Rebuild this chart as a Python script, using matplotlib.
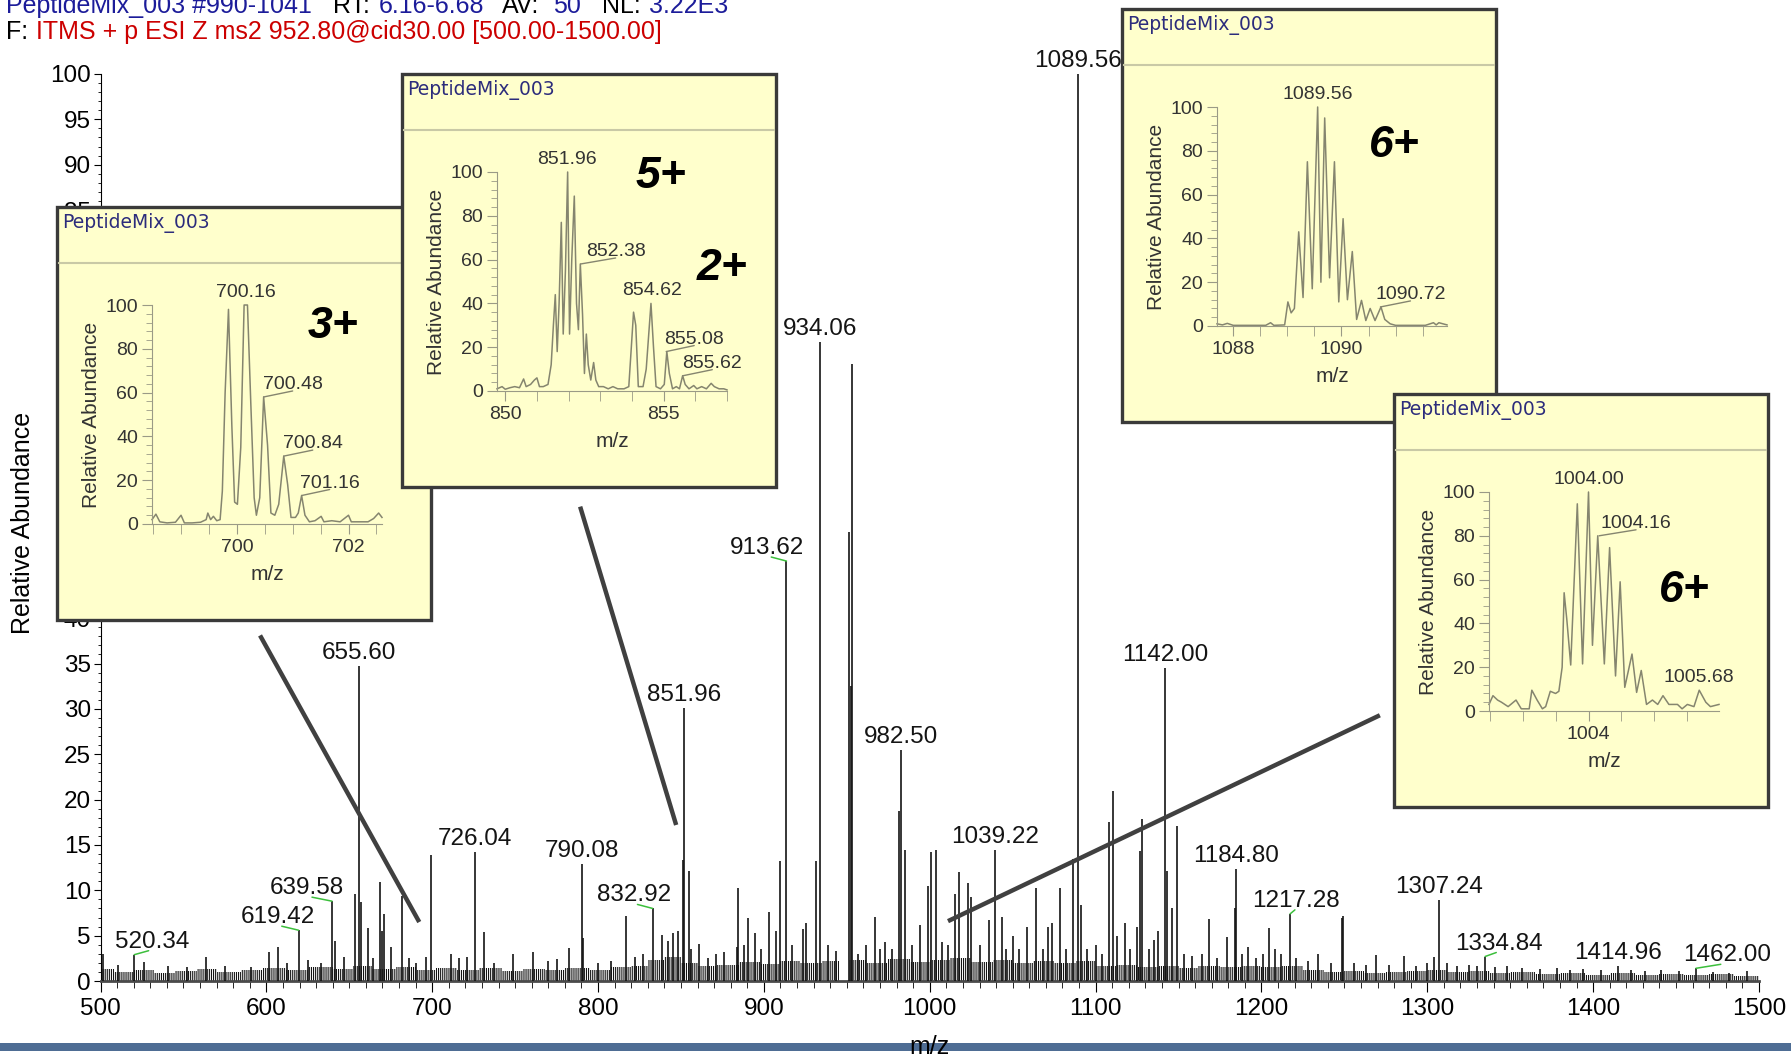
"""MS2 spectrum of PeptideMix_003 (precursor 952.80) with four zoomed
isotope-cluster insets, redrawn with matplotlib. Writes out.png."""

import matplotlib

matplotlib.use("Agg")
import matplotlib.pyplot as plt
import numpy as np
from matplotlib.lines import Line2D
from matplotlib.patches import Rectangle
from matplotlib.ticker import MultipleLocator

W, H = 1791, 1057

# Main spectrum peaks: m/z and relative abundance (%), rows of ten.
PEAK_MZ = [
    501.6, 510.5, 520.34, 526.0, 541.0, 552.0, 563.6, 575.0, 590.5, 601.6,
    607.0, 612.5, 619.42, 625.0, 633.0, 639.58, 641.5, 647.0, 653.3, 655.60,
    656.9, 661.0, 664.5, 668.5, 669.5, 671.0, 675.0, 681.8, 686.0, 690.0,
    696.5, 699.3, 711.3, 716.0, 721.0, 726.04, 731.0, 737.0, 748.9, 761.0,
    770.0, 775.0, 782.4, 790.08, 791.0, 800.0, 808.0, 816.6, 822.0, 827.0,
    832.92, 838.8, 842.0, 845.4, 848.0, 851.0, 851.96, 854.6, 856.0, 860.8,
    866.0, 871.0, 876.0, 883.6, 884.6, 888.0, 890.6, 894.6, 898.0, 903.3,
    907.2, 910.0, 913.62, 917.0, 923.6, 925.6, 931.7, 934.06, 938.7, 943.7,
    951.3, 952.3, 953.3, 957.0, 961.7, 966.7, 970.0, 973.3, 977.0, 981.7,
    982.50, 984.8, 989.0, 994.4, 998.8, 1000.8, 1003.8, 1007.2, 1011.0, 1015.4,
    1017.8, 1022.8, 1025.0, 1030.0, 1035.9, 1039.22, 1043.5, 1046.0, 1049.9, 1054.0,
    1058.5, 1064.3, 1068.0, 1071.5, 1073.5, 1078.6, 1082.0, 1086.4, 1089.56, 1091.0,
    1095.0, 1100.0, 1104.0, 1108.3, 1110.7, 1113.0, 1117.7, 1121.0, 1124.9, 1126.9,
    1127.9, 1132.0, 1135.0, 1137.4, 1142.00, 1143.0, 1146.0, 1149.0, 1153.0, 1158.0,
    1164.0, 1168.5, 1173.0, 1179.0, 1184.0, 1184.80, 1188.0, 1191.6, 1197.0, 1201.0,
    1204.7, 1208.0, 1212.0, 1217.28, 1221.0, 1228.0, 1234.0, 1242.0, 1248.4, 1249.2,
    1256.0, 1263.0, 1269.0, 1277.0, 1286.0, 1293.0, 1300.0, 1303.8, 1307.24, 1312.0,
    1318.0, 1325.0, 1330.0, 1334.84, 1341.0, 1348.0, 1357.0, 1368.0, 1378.0, 1386.0,
    1394.0, 1405.0, 1414.96, 1423.0, 1431.0, 1441.0, 1452.0, 1462.00, 1472.0, 1482.0,
    1493.0,
]
PEAK_INT = [
    3.0, 1.8, 2.9, 2.1, 1.6, 1.5, 2.6, 1.6, 1.5, 3.2,
    3.8, 2.0, 5.6, 2.3, 2.0, 8.8, 4.4, 2.6, 9.6, 34.7,
    8.7, 5.8, 2.5, 10.9, 5.5, 7.4, 3.8, 9.4, 2.5, 2.0,
    2.6, 13.9, 3.0, 2.5, 2.7, 14.2, 5.4, 2.0, 3.0, 3.2,
    2.2, 2.4, 3.6, 12.9, 4.7, 2.0, 2.2, 7.2, 2.6, 3.0,
    8.0, 5.1, 4.4, 5.3, 5.5, 13.3, 30.1, 12.1, 3.5, 4.1,
    2.5, 3.0, 3.2, 3.8, 10.2, 4.0, 6.9, 5.3, 3.5, 7.6,
    5.5, 13.2, 46.3, 4.0, 5.7, 6.4, 13.2, 70.5, 4.0, 3.3,
    49.5, 32.5, 68.0, 3.0, 4.0, 7.1, 3.5, 4.3, 3.5, 18.7,
    25.5, 14.4, 4.0, 6.2, 10.5, 14.2, 14.4, 4.3, 4.0, 9.6,
    12.0, 10.8, 9.3, 4.0, 6.7, 14.4, 7.1, 3.5, 5.0, 3.5,
    5.9, 10.3, 3.5, 5.9, 6.4, 10.3, 3.5, 13.4, 100.0, 8.4,
    3.5, 4.0, 3.0, 17.5, 21.0, 5.0, 6.4, 3.5, 6.0, 14.3,
    17.9, 3.5, 4.5, 5.5, 34.5, 12.1, 8.1, 17.1, 3.0, 2.8,
    3.0, 6.8, 2.5, 4.8, 8.1, 12.3, 3.0, 3.7, 2.5, 3.0,
    5.8, 3.5, 3.0, 7.4, 2.5, 2.2, 3.0, 2.0, 7.0, 7.2,
    2.0, 1.8, 2.9, 1.8, 2.8, 1.7, 2.0, 2.7, 8.9, 2.0,
    1.7, 1.8, 1.6, 2.7, 1.5, 1.6, 1.4, 1.3, 1.4, 1.2,
    1.3, 1.2, 1.6, 1.2, 1.1, 1.2, 1.1, 1.4, 1.0, 0.9,
    1.1,
]
assert len(PEAK_MZ) == len(PEAK_INT)

# Noise floor: level holds from each start m/z up to the next one (and 1500).
NOISE_START = [
    500, 508, 520, 532, 545, 558, 570, 585, 598, 612,
    625, 640, 652, 664, 678, 690, 702, 715, 728, 742,
    755, 768, 780, 795, 808, 820, 830, 840, 850, 860,
    872, 885, 898, 910, 922, 935, 945.5, 951.5, 962, 975,
    988, 1000, 1012, 1025, 1038, 1050, 1062, 1075, 1088, 1100,
    1112, 1125, 1138, 1150, 1162, 1175, 1188, 1200, 1212, 1225,
    1238, 1250, 1262, 1275, 1288, 1300, 1312, 1325, 1338, 1350,
    1365, 1380, 1395, 1410, 1425, 1440, 1455, 1470, 1485,
]
NOISE_LEVEL = [
    1.3, 1.0, 1.2, 0.9, 1.1, 1.3, 1.0, 1.2, 1.4, 1.2,
    1.5, 1.3, 1.6, 1.3, 1.5, 1.2, 1.4, 1.2, 1.4, 1.1,
    1.3, 1.2, 1.4, 1.2, 1.5, 1.7, 2.3, 2.6, 2.0, 1.6,
    1.8, 2.1, 1.9, 2.2, 2.0, 2.2, 0.0, 2.3, 2.0, 2.4,
    2.1, 2.3, 2.5, 2.1, 2.3, 2.0, 2.2, 2.0, 2.2, 1.6,
    1.8, 1.5, 1.7, 1.4, 1.6, 1.5, 1.7, 1.5, 1.6, 1.2,
    1.0, 1.1, 0.9, 1.0, 1.1, 1.2, 1.0, 1.1, 0.9, 1.0,
    0.8, 0.9, 0.7, 0.9, 0.7, 0.8, 0.7, 0.8, 0.6,
]
assert len(NOISE_START) == len(NOISE_LEVEL)

LABELED_MZ = [520.34, 619.42, 639.58, 655.60, 726.04, 790.08, 832.92, 851.96,
              913.62, 934.06, 982.50, 1039.22, 1089.56, 1142.00, 1184.80,
              1217.28, 1307.24, 1334.84, 1414.96, 1462.00]

# Inset profiles, (m/z, relative abundance) vertices of the profile trace.
PROFILE_700 = [
    (698.48, 2), (698.55, 4.5), (698.62, 1), (698.75, 0.5), (698.9, 0.8),
    (699.0, 4), (699.06, 0.5), (699.2, 0.5), (699.35, 0.8), (699.45, 2),
    (699.48, 5), (699.53, 2), (699.58, 3.5), (699.64, 1.5), (699.7, 2),
    (699.74, 15), (699.79, 60), (699.85, 98), (699.91, 45), (699.96, 10),
    (700.01, 9), (700.07, 35), (700.13, 100), (700.19, 100), (700.25, 55),
    (700.31, 12), (700.35, 4), (700.41, 12), (700.48, 58), (700.55, 36),
    (700.61, 5), (700.68, 4), (700.75, 9), (700.84, 31), (700.91, 18),
    (700.97, 3), (701.05, 3), (701.1, 5), (701.16, 13), (701.22, 4),
    (701.3, 1), (701.4, 1.5), (701.51, 3.5), (701.56, 1), (701.7, 1.5),
    (701.85, 1), (702.0, 4), (702.05, 1), (702.2, 1), (702.35, 1),
    (702.45, 2.5), (702.54, 5), (702.6, 3),
]
PROFILE_852 = [
    (849.74, 1), (849.9, 2), (850.0, 0.8), (850.15, 1.5), (850.3, 2),
    (850.45, 1.5), (850.58, 5.5), (850.66, 2), (850.8, 3), (850.92, 5),
    (851.0, 6), (851.08, 2), (851.2, 2), (851.35, 3), (851.45, 12),
    (851.52, 30), (851.58, 44), (851.64, 18), (851.7, 40), (851.77, 77),
    (851.83, 26), (851.9, 55), (851.97, 100), (852.03, 26), (852.1, 60),
    (852.18, 89), (852.25, 40), (852.31, 28), (852.37, 58), (852.44, 35),
    (852.5, 8), (852.56, 26), (852.62, 12), (852.7, 5), (852.79, 13),
    (852.86, 5), (852.95, 2), (853.1, 2), (853.25, 1), (853.4, 2),
    (853.55, 1), (853.75, 1), (853.9, 2), (853.98, 20), (854.05, 36),
    (854.12, 30), (854.2, 2), (854.35, 2), (854.45, 10), (854.52, 24),
    (854.6, 40), (854.68, 20), (854.76, 2), (854.9, 1), (855.02, 3),
    (855.1, 18), (855.18, 8), (855.28, 1), (855.4, 2), (855.5, 1),
    (855.6, 7), (855.68, 3), (855.8, 1), (855.95, 2.5), (856.05, 1),
    (856.2, 2), (856.35, 1), (856.5, 3.5), (856.6, 2), (856.75, 1),
    (856.9, 1), (857.0, 0.5),
]
PROFILE_1090 = [
    (1087.7, 1), (1087.8, 0.5), (1087.89, 1.2), (1088.0, 0.3), (1088.3, 0.3),
    (1088.6, 0.3), (1088.69, 1.5), (1088.75, 0.3), (1088.95, 0.5), (1089.01, 11),
    (1089.07, 6), (1089.13, 8), (1089.21, 43), (1089.29, 13), (1089.37, 75),
    (1089.46, 17), (1089.56, 100), (1089.62, 20), (1089.69, 95), (1089.78, 22),
    (1089.87, 75), (1089.95, 11), (1090.03, 49), (1090.11, 12), (1090.2, 34),
    (1090.28, 3), (1090.37, 11.7), (1090.45, 2.5), (1090.53, 8), (1090.62, 2.5),
    (1090.73, 8.7), (1090.8, 3), (1090.9, 1), (1091.0, 0.3), (1091.3, 0.3),
    (1091.55, 0.3), (1091.7, 1.5), (1091.75, 0.5), (1091.8, 1.5), (1091.95, 0.5),
]
PROFILE_1004 = [
    (1002.49, 3), (1002.55, 7), (1002.62, 5), (1002.68, 4), (1002.78, 2),
    (1002.9, 5), (1002.98, 1), (1003.1, 1), (1003.14, 9.5), (1003.22, 5),
    (1003.3, 1), (1003.35, 2), (1003.42, 9), (1003.5, 8), (1003.55, 9),
    (1003.6, 20), (1003.63, 54), (1003.67, 42), (1003.73, 21), (1003.83, 94.6),
    (1003.91, 21.5), (1004.0, 100), (1004.06, 30), (1004.14, 80), (1004.24, 21.5),
    (1004.32, 74.6), (1004.41, 16), (1004.48, 59), (1004.55, 10.8), (1004.66, 26),
    (1004.73, 8.5), (1004.8, 18.5), (1004.88, 3), (1004.97, 5), (1005.05, 3),
    (1005.13, 7), (1005.22, 3), (1005.35, 3), (1005.42, 1), (1005.5, 3),
    (1005.6, 2), (1005.68, 9.5), (1005.78, 4), (1005.85, 2), (1005.98, 3),
]

LABELS_700 = [700.16, 700.48, 700.84, 701.16]
LABELS_852 = [851.96, 852.38, 854.62, 855.08, 855.62]
LABELS_1090 = [1089.56, 1090.72]
LABELS_1004 = [1004.00, 1004.16, 1005.68]

# ---- styling / layout ----
plt.rcParams["font.family"] = ["Liberation Sans", "DejaVu Sans"]
plt.rcParams["hatch.color"] = "#151515"
plt.rcParams["hatch.linewidth"] = 0.8

INK = "#141414"
GREEN = "#3cbf3c"
INSET_FACE = "#ffffcc"
INSET_LINE = "#85856f"
INSET_AXIS = "#9a9a86"
BOX_W, BOX_H = 374, 413

# Horizontal label shift (px) for labels pushed off their peak; these get a
# green leader line like the instrument software draws.
MAIN_LABEL_DX = {520.34: 18, 619.42: -21, 639.58: -25, 832.92: -19,
                 913.62: -19, 1217.28: 6, 1334.84: 14, 1462.00: 31}


def fx(px):
    return px / W


def fy(py):
    return 1 - py / H


fig = plt.figure(figsize=(W / 100, H / 100), dpi=100)
ax = fig.add_axes([fx(100.5), fy(981), (1759 - 100.5) / W, (981 - 74) / H])
ax.patch.set_visible(False)

noise_x = NOISE_START + [1500]
noise_y = NOISE_LEVEL + NOISE_LEVEL[-1:]
ax.fill_between(noise_x, 0, noise_y, step="post", facecolor="none",
                edgecolor="#151515", hatch="||||||||", linewidth=0, zorder=2)
ax.vlines(PEAK_MZ, 0, PEAK_INT, colors=INK, linewidth=1.2, zorder=3)

mz_arr = np.array(PEAK_MZ)
for mz in LABELED_MZ:
    h = PEAK_INT[int(np.argmin(np.abs(mz_arr - mz)))]
    dx = MAIN_LABEL_DX.get(mz, 0)
    ax.annotate(f"{mz:.2f}", xy=(mz, h), xytext=(dx, 7), textcoords="offset pixels",
                ha="center", va="baseline", fontsize=17.5, color=INK, zorder=4)
    if dx:
        ax.annotate("", xy=(mz, h), xytext=(dx * 0.8, 4), textcoords="offset pixels",
                    arrowprops=dict(arrowstyle="-", color=GREEN, lw=1.1,
                                    shrinkA=0, shrinkB=0), zorder=4)

ax.set_xlim(500, 1500)
ax.set_ylim(0, 100)
ax.xaxis.set_major_locator(MultipleLocator(100))
ax.xaxis.set_minor_locator(MultipleLocator(10))
ax.yaxis.set_major_locator(MultipleLocator(5))
ax.yaxis.set_minor_locator(MultipleLocator(1))
ax.spines[["top", "right"]].set_visible(False)
ax.spines["bottom"].set_color("#4a4a4a")
ax.spines["bottom"].set_linewidth(2)
ax.tick_params(axis="x", which="major", length=8, labelsize=17.5, pad=4)
ax.tick_params(axis="x", which="minor", length=5)
ax.tick_params(axis="y", which="major", length=5, labelsize=17.5, pad=2)
ax.tick_params(axis="y", which="minor", length=2.5)

# callout lines from the insets down to the clusters they magnify
CONNECTORS = [((596.2, 38.1), (692.2, 6.5)),
              ((789.2, 52.3), (847.1, 17.2)),
              ((1271.4, 29.3), (1011.0, 6.6))]
for (x0, y0), (x1, y1) in CONNECTORS:
    ax.plot([x0, x1], [y0, y1], color="#404040", lw=3.2, clip_on=False,
            solid_capstyle="butt", zorder=5)

fig.text(fx(23), fy(523), "Relative Abundance", rotation=90, ha="center",
         va="center", fontsize=18)

# scan header
BLUE, RED = "#1c1c9a", "#cc0000"
for x, txt, col in [(6, "PeptideMix_003 #990-1041", BLUE), (333, "RT:", "black"),
                    (379, "6.16-6.68", BLUE), (502, "AV:", "black"), (553, "50", BLUE),
                    (602, "NL:", "black"), (649, "3.22E3", BLUE)]:
    fig.text(fx(x), fy(13), txt, color=col, fontsize=18, va="baseline")
fig.text(fx(6), fy(39), "F:", color="black", fontsize=18, va="baseline")
fig.text(fx(36), fy(39), "ITMS + p ESI Z ms2 952.80@cid30.00 [500.00-1500.00]",
         color=RED, fontsize=18, va="baseline")

# bottom bar and axis title
fig.patches.append(Rectangle((0, fy(1051)), 1, 8 / H, transform=fig.transFigure,
                             facecolor="#4e6d94", edgecolor="none", zorder=15))
fig.text(fx(929), fy(1047), "m/z", ha="center", va="center", fontsize=18, zorder=20)


def draw_inset(left, top, profile, xlim, major, minor, labels, label_dx, charges, z):
    fig.patches.append(Rectangle((fx(left), fy(top + BOX_H)), BOX_W / W, BOX_H / H,
                                 transform=fig.transFigure, facecolor=INSET_FACE,
                                 edgecolor="#3a3a3a", linewidth=2.4, zorder=z))
    fig.lines.append(Line2D([fx(left + 2), fx(left + BOX_W - 2)], [fy(top + 56)] * 2,
                            transform=fig.transFigure, color="#c9c9a6", lw=1.5,
                            zorder=z + 0.1))
    fig.text(fx(left + 5), fy(top + 16), "PeptideMix_003", color="#2c2c7c",
             fontsize=13.5, family="DejaVu Sans", va="center", zorder=z + 0.1)

    iax = fig.add_axes([fx(left + 95), fy(top + 317), 230 / W, 219 / H])
    iax.set_zorder(z + 0.5)
    iax.patch.set_visible(False)
    mz, h = np.array(profile).T
    iax.plot(mz, h, color=INSET_LINE, lw=1.1, clip_on=False)
    for lab in labels:
        near = np.abs(mz - lab) <= 0.04
        top_h = h[near].max()
        dx = label_dx.get(lab, 0)
        iax.annotate(f"{lab:.2f}", xy=(lab, top_h), xytext=(dx, 8),
                     textcoords="offset pixels", ha="center", va="baseline",
                     fontsize=14, color="#333333")
        if dx:
            iax.annotate("", xy=(lab, top_h), xytext=(dx, 6), textcoords="offset pixels",
                         arrowprops=dict(arrowstyle="-", color=INSET_LINE, lw=1.0,
                                         shrinkA=0, shrinkB=0))
    for txt, (cx, cy) in charges:
        iax.text(cx, cy, txt, ha="center", va="center", fontsize=32,
                 fontweight="bold", fontstyle="italic", color="black")

    iax.set_xlim(*xlim)
    iax.set_ylim(0, 100)
    iax.xaxis.set_major_locator(MultipleLocator(major))
    iax.xaxis.set_minor_locator(MultipleLocator(minor))
    iax.yaxis.set_major_locator(MultipleLocator(20))
    iax.yaxis.set_minor_locator(MultipleLocator(4))
    iax.spines[["top", "right"]].set_visible(False)
    for s in ("left", "bottom"):
        iax.spines[s].set_color(INSET_AXIS)
    iax.tick_params(which="both", colors=INSET_AXIS, labelcolor="#333333", labelsize=14)
    iax.tick_params(axis="y", which="major", length=7, pad=3)
    iax.tick_params(axis="y", which="minor", length=4.5)
    iax.tick_params(axis="x", which="both", length=7, pad=4)
    iax.set_xlabel("m/z", fontsize=15, color="#333333", labelpad=6)
    iax.set_ylabel("Relative Abundance", fontsize=15, color="#333333", labelpad=3)


draw_inset(57, 207, PROFILE_700, (698.48, 702.6), 2, 0.5, LABELS_700,
           {700.48: 29, 700.84: 29, 701.16: 28}, [("3+", (701.73, 90))], z=2)
draw_inset(402, 74, PROFILE_852, (849.74, 857.0), 5, 1, LABELS_852,
           {852.38: 35, 855.08: 28, 855.62: 29},
           [("5+", (854.9, 98)), ("2+", (856.84, 56))], z=4)
draw_inset(1122, 9, PROFILE_1090, (1087.7, 1091.95), 2, 0.5, LABELS_1090,
           {1090.72: 30}, [("6+", (1090.98, 82.5))], z=6)
draw_inset(1394, 394, PROFILE_1004, (1002.49, 1005.98), 2, 0.5, LABELS_1004,
           {1004.16: 37}, [("6+", (1005.46, 55))], z=8)

fig.savefig("out.png", dpi=100)
